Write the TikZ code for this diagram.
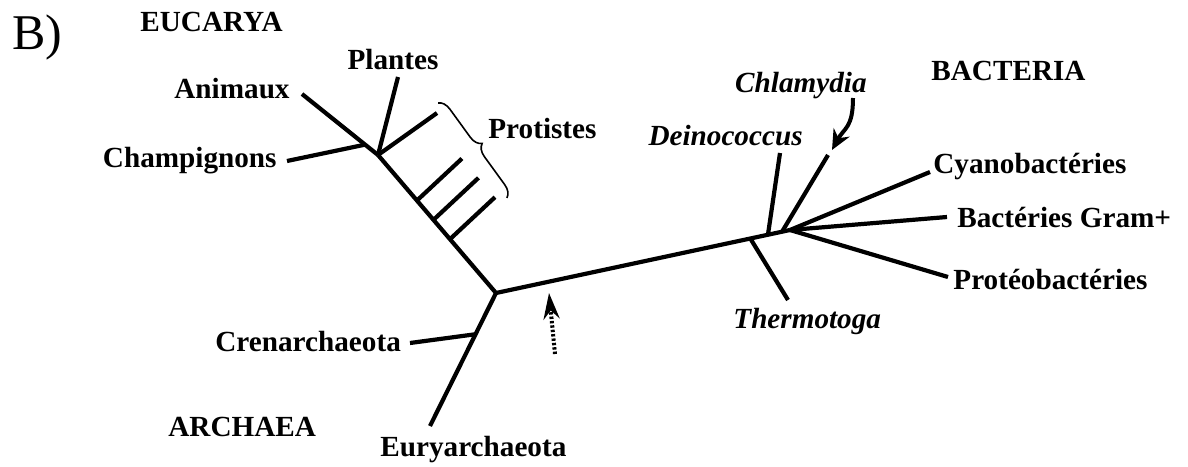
\documentclass[tikz,border=0pt]{standalone}
\usepackage{fontspec}
\setmainfont{Liberation Serif}
\usetikzlibrary{arrows.meta, calc, decorations.pathreplacing}

\begin{document}
\begin{tikzpicture}[x=0.5pt, y=-0.5pt, >=Stealth,
  branch/.style={line width=2.1pt, line join=round},
  lab/.style={font=\fontsize{14.6}{17}\selectfont\bfseries, inner sep=0pt},
  taxon/.style={font=\fontsize{14.6}{17}\selectfont\bfseries\itshape, inner sep=0pt}]
  \useasboundingbox (0,0) rectangle (1188,466);

  \node[anchor=base west, inner sep=0pt, font=\fontsize{25}{28}\selectfont] (panel) at (12,49) {B)};
  \node[lab, anchor=base west] (eucarya) at (140,32) {EUCARYA};
  \node[lab, anchor=base west] (bacteria) at (931,80) {BACTERIA};
  \node[lab, anchor=base west] (archaea) at (168,436) {ARCHAEA};

  \node[lab, anchor=base east] (animaux) at (290,98) {Animaux};
  \node[lab, anchor=base east] (champignons) at (277,167) {Champignons};
  \node[lab, anchor=base] (plantes) at (393,69) {Plantes};
  \node[lab, anchor=base west] (protistes) at (488,138) {Protistes};
  \node[taxon, anchor=base east] (deinococcus) at (803,145) {Deinococcus};
  \node[taxon, anchor=base east] (chlamydia) at (867,92) {Chlamydia};
  \node[lab, anchor=base west] (cyano) at (933,173) {Cyanobactéries};
  \node[lab, anchor=base west] (gram) at (957,227) {Bactéries Gram+};
  \node[lab, anchor=base west] (proteo) at (953,289) {Protéobactéries};
  \node[taxon, anchor=base west] (thermotoga) at (733,328) {Thermotoga};
  \node[lab, anchor=base west] (crenarch) at (215,351) {Crenarchaeota};
  \node[lab, anchor=base west] (euryarch) at (380,456) {Euryarchaeota};

  \coordinate (root) at (496,293);
  \coordinate (euk) at (378,155);
  \coordinate (bac) at (790,230);
  \coordinate (animaux-tip) at (302,94);
  \coordinate (champ-tip) at (287,161);
  \coordinate (plantes-tip) at (398,77);
  \coordinate (protist-tip) at (437,113);
  \coordinate (brace-top) at (438,103);
  \coordinate (brace-bot) at (507,198);
  \coordinate (eury-tip) at (430,426);
  \coordinate (cren-tip) at (410,343);
  \coordinate (thermo-tip) at (788,300);
  \coordinate (deino-tip) at (780,153);
  \coordinate (chlam-tip) at (828,155);
  \coordinate (cyano-tip) at (930,172);
  \coordinate (gram-tip) at (947,217);
  \coordinate (proteo-tip) at (948,277);
  \coordinate (chlam-from) at (853,98);
  \coordinate (chlam-to) at (832,150);
  \coordinate (root-from) at (555,354);
  \coordinate (root-to) at (549,293);

  \draw[branch] (euk) -- (root) -- (bac);
  \draw[branch] (root) -- (eury-tip);
  \draw[branch] ($(root)!0.31!(eury-tip)$) -- (cren-tip);

  \draw[branch] (animaux-tip) -- (euk);
  \draw[branch] ($(animaux-tip)!0.83!(euk)$) -- (champ-tip);
  \draw[branch] (euk) -- (plantes-tip);
  \draw[branch] (euk) -- (protist-tip);
  \foreach \t in {0.33, 0.47, 0.61}
    \draw[branch] ($(euk)!\t!(root)$) -- ++(45,-42);
  \draw[line width=0.8pt, decorate, decoration={brace, amplitude=6pt}] (brace-top) -- (brace-bot);

  \draw[branch] ($(root)!0.865!(bac)$) -- (thermo-tip);
  \draw[branch] ($(root)!0.925!(bac)$) -- (deino-tip);
  \draw[branch] ($(root)!0.973!(bac)$) -- (chlam-tip);
  \foreach \tip in {cyano-tip, gram-tip, proteo-tip}
    \draw[branch] (bac) -- (\tip);

  \draw[line width=2pt, -{Stealth[length=10pt, width=9pt]}] (chlam-from)
    .. controls +(0,30) and +(12,-22) .. (chlam-to);
  \draw[line width=2pt, dash pattern=on 1.2pt off 1pt, -{Stealth[length=13pt, width=8pt]}]
    (root-from) -- (root-to);
\end{tikzpicture}
\end{document}
